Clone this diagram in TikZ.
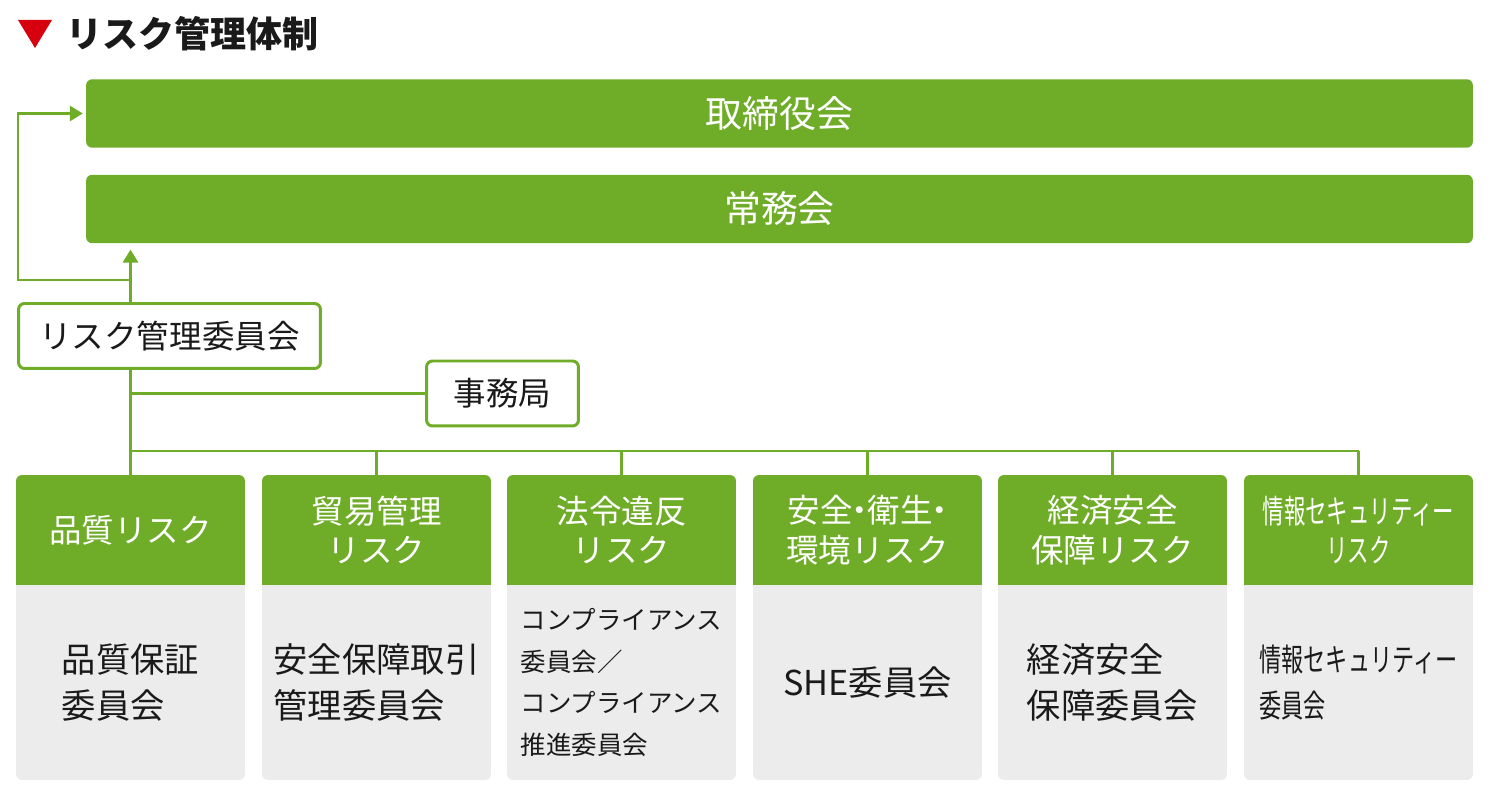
\documentclass[tikz,border=0pt]{standalone}
\usepackage{fontspec}
\setmainfont{Noto Sans CJK JP}
\usetikzlibrary{arrows.meta, positioning, calc}

\definecolor{riskgreen}{HTML}{6FAC28}
\definecolor{riskgray}{HTML}{EBECEB}
\definecolor{riskred}{HTML}{D7000F}
\definecolor{ink}{HTML}{1A1A1A}

\newcommand{\halfdot}{\makebox[0.45em]{・}}

\tikzset{
  link/.style={riskgreen, line width=1.7pt},
  board/.style={fill=riskgreen, rounded corners=0.12cm, minimum width=27.74cm,
    minimum height=1.37cm, inner sep=0, text=white,
    font=\fontsize{21}{25}\selectfont},
  panel/.style={draw=riskgreen, line width=1.7pt, fill=white, rounded corners=0.12cm,
    minimum height=1.3cm, inner sep=0, text=ink,
    font=\fontsize{18.5}{22}\selectfont},
  head/.style={fill=riskgreen, rounded corners=0.12cm, minimum width=4.58cm,
    minimum height=2.2cm, inner sep=0, align=center, text=white,
    font=\fontsize{18.5}{22.5}\selectfont},
  body/.style={fill=riskgray, rounded corners=0.12cm, minimum width=4.58cm,
    minimum height=3.9cm, inner sep=0, align=left, text=ink,
    font=\fontsize{19.5}{26}\selectfont},
}

\begin{document}
\begin{tikzpicture}[x=0.02cm, y=-0.02cm, >={Triangle[length=0.26cm, width=0.3cm]}]

\useasboundingbox (0,0) rectangle (1494,803);

% title
\fill[riskred] (18,20) -- (52,20) -- (35,48) -- cycle;
\node[anchor=west, inner sep=0, text=ink, font=\fontsize{20.5}{24}\selectfont\bfseries]
  (title) at (66,34) {リスク管理体制};

% boards
\node[board] (torishimari) at (779.5,113.5) {取締役会};
\node[board] (jomu) at (779.5,209) {常務会};

% committee
\node[panel, minimum width=6.04cm] (iinkai) at (169.5,336) {リスク管理委員会};
\node[panel, minimum width=3.04cm] (jimu) at (502.5,393.5) {事務局};

% risk columns: headers
\node[head] (h1) at (130.5,530) {品質リスク};
\node[head] (h2) at (376.5,530) {貿易管理\\リスク};
\node[head] (h3) at (621.5,530) {法令違反\\リスク};
\node[head] (h4) at (867.5,530) {安全\halfdot 衛生\halfdot\\環境リスク};
\node[head] (h5) at (1112.5,530) {経済安全\\保障リスク};
\node[head] (h6) at (1358.5,530)
  {\scalebox{0.66}[1]{情報セキュリティー}\\\scalebox{0.66}[1]{リスク}};

% risk columns: bodies
\node[body] (b1) at (130.5,682.5) {品質保証\\委員会};
\node[body] (b2) at (376.5,682.5) {安全保障取引\\管理委員会};
\node[body, font=\fontsize{14.5}{23.8}\selectfont] (b3) at (621.5,682.5)
  {コンプライアンス\\委員会／\\コンプライアンス\\推進委員会};
\node[body] (b4) at (867.5,682.5) {SHE委員会};
\node[body] (b5) at (1112.5,682.5) {経済安全\\保障委員会};
\node[body, font=\fontsize{18}{26}\selectfont] (b6) at (1358.5,682.5)
  {\scalebox{0.7}[1]{情報セキュリティー}\\\scalebox{0.7}[1]{委員会}};

% square off the joints between header and body
\foreach \i in {1,...,6} {
  \fill[riskgreen] ($(h\i.south west)+(0,-10)$) rectangle (h\i.south east);
  \fill[riskgray] (b\i.north west) rectangle ($(b\i.north east)+(0,10)$);
}

% connectors
\coordinate (spinetop) at (h1.north |- 0,280);
\coordinate (loopcorner) at (18,280);
\coordinate (bus) at (h1.north |- 0,451);

\draw[link, ->, shorten >=0.12cm] (iinkai.north -| h1.north) -- (jomu.south -| h1.north);
\draw[link, ->, shorten >=0.06cm] (spinetop) -- (loopcorner) |- (torishimari.west);
\draw[link] (iinkai.south -| h1.north) -- (h1.north);
\draw[link] (jimu.west -| h1.north) -- (jimu.west);
\draw[link] (bus) -- (h6.north |- bus);
\foreach \i in {2,...,6}
  \draw[link] (h\i.north |- bus) -- (h\i.north);

\end{tikzpicture}
\end{document}
